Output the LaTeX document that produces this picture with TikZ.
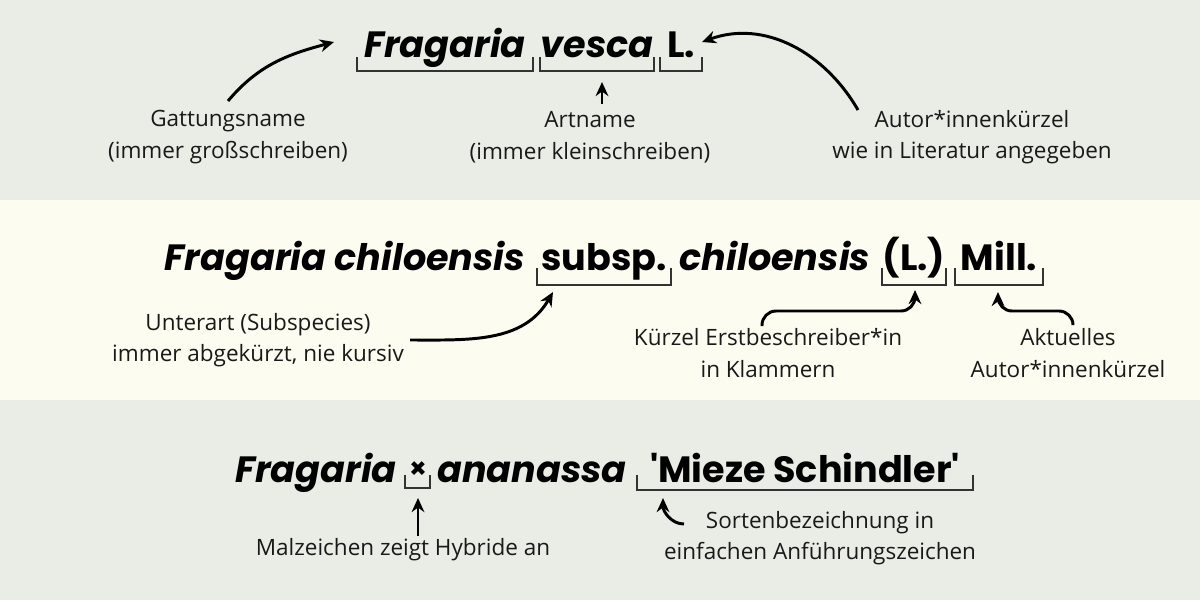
\documentclass[tikz,border=0pt]{standalone}
\usepackage{fontspec}
\setmainfont{Open Sans}
\newfontfamily\titlefont{Poppins}
\usetikzlibrary{positioning,arrows.meta}
\definecolor{bandgrey}{HTML}{E9EDE6}
\definecolor{bandcream}{HTML}{FCFCF1}
\definecolor{inkgrey}{HTML}{333333}
\tikzset{sciname/.style={font=\titlefont\fontsize{26}{30}\selectfont\bfseries,anchor=base,inner sep=0pt,text=black},
		note/.style={font=\fontsize{16}{22.5}\selectfont,align=center,text=black!90},
		brace/.style={draw=inkgrey,line width=0.9pt},
		pointer/.style={-{Stealth[length=10pt,width=9pt]},line width=2.1pt}}
\begin{document}
\begin{tikzpicture}[x=0.025cm,y=-0.025cm]
	\useasboundingbox (0,0) rectangle (1200,600);
	\fill[bandgrey] (0,0) rectangle (1200,200);
	\fill[bandcream] (0,200) rectangle (1200,400);
	\fill[bandgrey] (0,400) rectangle (1200,600);
	%top row
	\node[sciname] at (445,57) (gen1){\itshape Fragaria};
	\node[sciname] at (597,57) (ep1){\itshape vesca};
	\node[sciname] at (681,57) (aut1){L.};
	\draw[brace] (357,57) |- (533,71) -- (533,57);
	\draw[brace] (540,57) |- (654,71) -- (654,57);
	\draw[brace] (660,57) |- (702,71) -- (702,57);
	\node[note] at (228,137) (lgen){Gattungsname\\(immer großschreiben)};
	\node[note] at (590,137) (lep){Artname\\(immer kleinschreiben)};
	\node[note] at (972,137) (laut){Autor*innenkürzel\\wie in Literatur angegeben};
	\coordinate (sgen) at (228,101);
	\coordinate (tgen) at (334,42);
	\coordinate (tep) at (602,82);
	\coordinate (taut) at (702,42);
	\draw[pointer] (sgen) to[out=50,in=195] (tgen);
	\draw[pointer] (602,104) -- (tep);
	\draw[pointer] (858,110) to[out=120,in=20] (taut);
	%middle row
	\node[sciname] at (345,270) (gen2){\itshape Fragaria chiloensis};
	\node[sciname] at (604,270) (rank2){subsp.};
	\node[sciname] at (775,270) (ep2){\itshape chiloensis};
	\node[sciname] at (914,270) (aut2){(L.)};
	\node[sciname] at (999,270) (mill2){Mill.};
	\draw[brace] (537,268) |- (671,285) -- (671,268);
	\draw[brace] (882,268) |- (946,285) -- (946,268);
	\draw[brace] (955,268) |- (1043,285) -- (1043,268);
	\node[note] at (258,340) (lrank){Unterart (Subspecies)\\immer abgekürzt, nie kursiv};
	\node[note] at (768,353) (lbas){Kürzel Erstbeschreiber*in\\in Klammern};
	\node[note] at (1068,353) (lmill){Aktuelles\\Autor*innenkürzel};
	\coordinate (trank) at (553,292);
	\coordinate (tbas) at (915,290);
	\coordinate (tmill) at (998,292);
	\draw[pointer] (410,340) to[out=0,in=-120] (trank);
	\draw[pointer,rounded corners=10pt] (762,326) |- (915,311) -- (tbas);
	\draw[pointer,rounded corners=10pt] (1073,324) |- (998,311) -- (tmill);
	%bottom row
	\node[sciname] at (316,482) (gen3){\itshape Fragaria};
	\node[sciname] at (418,478) (hyb3){\fontsize{20}{20}\selectfont ×};
	\node[sciname] at (532,482) (ep3){\itshape ananassa};
	\node[sciname] at (805,482) (cv3){'Mieze Schindler'};
	\draw[brace] (405,475) |- (430,488) -- (430,475);
	\draw[brace] (637,475) |- (973,490) -- (973,475);
	\node[note] at (403,550) (lhyb){Malzeichen zeigt Hybride an};
	\node[note] at (820,538) (lcv){Sortenbezeichnung in\\einfachen Anführungszeichen};
	\coordinate (thyb) at (418,498);
	\coordinate (tcv) at (663,498);
	\draw[pointer] (418,536) -- (thyb);
	\draw[pointer] (684,524) to[out=180,in=-90] (tcv);
\end{tikzpicture}
\end{document}
